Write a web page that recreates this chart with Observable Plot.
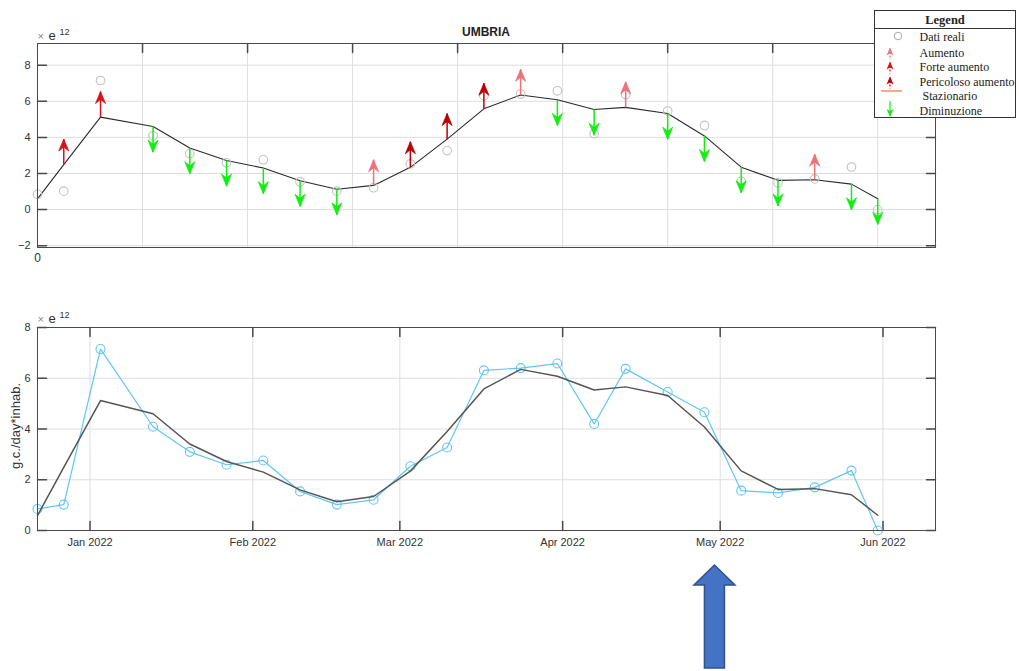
<!DOCTYPE html>
<html><head><meta charset="utf-8">
<script src="https://cdn.jsdelivr.net/npm/d3@7"></script>
<script src="https://cdn.jsdelivr.net/npm/@observablehq/plot@0.6"></script>
<style>
body{margin:0;background:#fff;font-family:"Liberation Sans",Arial,sans-serif;}
#wrap{position:relative;width:1019px;height:671px;overflow:hidden;background:#fff;}
#wrap > svg, #wrap > div{position:absolute;}
.legend{left:874px;top:10px;width:140px;height:106px;border:1px solid #333;background:#fff;font-family:"Liberation Serif","Times New Roman",serif;font-size:12px;color:#222;}
</style></head><body><div id="wrap"></div>
<script>
// ---- data (values in units of 1e12 g.c./day*inhab.) ----
const dates = ["2021-12-22","2021-12-27","2022-01-03","2022-01-13","2022-01-20","2022-01-27","2022-02-03","2022-02-10","2022-02-17","2022-02-24","2022-03-03","2022-03-10","2022-03-17","2022-03-24","2022-03-31","2022-04-07","2022-04-13","2022-04-21","2022-04-28","2022-05-05","2022-05-12","2022-05-19","2022-05-26","2022-05-31"];
const realValues = [0.85,1.02,7.15,4.09,3.10,2.59,2.76,1.54,1.02,1.21,2.53,3.27,6.31,6.40,6.58,4.20,6.37,5.46,4.66,1.57,1.48,1.70,2.36,0.0];
const trendValues = [0.59,2.49,5.12,4.60,3.41,2.72,2.30,1.60,1.13,1.34,2.34,3.90,5.58,6.35,6.08,5.54,5.66,5.32,4.08,2.35,1.62,1.65,1.41,0.60];
const statusValues = ["","Forte aumento","Forte aumento","Diminuzione","Diminuzione","Diminuzione","Diminuzione","Diminuzione","Diminuzione","Aumento","Pericoloso aumento","Pericoloso aumento","Pericoloso aumento","Aumento","Diminuzione","Diminuzione","Aumento","Diminuzione","Diminuzione","Diminuzione","Diminuzione","Aumento","Diminuzione","Diminuzione"];
const statusNames = ["Aumento","Forte aumento","Pericoloso aumento","Stazionario","Diminuzione"];
const statusColors = ["#ec737a","#d3141c","#bd0006","#f7a98b","#12ee12"];
const xDomainDates = ["2021-12-22","2022-06-11"];
const topYTicks = [-2,0,2,4,6,8];
const bottomYTicks = [0,2,4,6,8];
const monthTicks = ["2022-01-01","2022-02-01","2022-03-01","2022-04-01","2022-05-01","2022-06-01"];
const topGridStepDays = 20;
const arrowLength = 1.42;
const annotationDate = "2022-04-30";
const chartTitle = "UMBRIA";
const yLabel = "g.c./day*inhab.";

// ---- build ----
const parse = d3.utcParse("%Y-%m-%d");
const rows = dates.map((d,i)=>({date:parse(d), real:realValues[i], trend:trendValues[i], status:statusValues[i]}));
const xDomain = xDomainDates.map(parse);
const topGrid = d3.range(0, 9).map(i => d3.utcDay.offset(xDomain[0], topGridStepDays*i));
const months = monthTicks.map(parse);
const arrowRows = rows.filter(r => r.status);
const upRows = arrowRows.filter(r => r.status !== "Diminuzione");
const downRows = arrowRows.filter(r => r.status === "Diminuzione");

const tickShape = {draw(ctx, l){ ctx.moveTo(0,0); ctx.lineTo(0,-l); }};
const headUp = {draw(ctx){ ctx.moveTo(0,0); ctx.lineTo(-5,12); ctx.lineTo(0,8); ctx.lineTo(5,12); ctx.closePath(); }};
const headDown = {draw(ctx){ ctx.moveTo(0,0); ctx.lineTo(-5,-12); ctx.lineTo(0,-8); ctx.lineTo(5,-12); ctx.closePath(); }};

const font = {fontFamily:"'Liberation Sans', Arial, sans-serif", fontSize:"11px", color:"#333", background:"transparent", overflow:"visible"};
const gridColor = "#dedede";
const frameColor = "#4a4a4a";

function inwardTicks(xTicks, yTicks, xAnchors){
  const m = [];
  for (const a of xAnchors) m.push(Plot.vector(xTicks, {x:d=>d, frameAnchor:a, rotate:a==="top"?180:0, length:9, anchor:"start", shape:tickShape, stroke:frameColor}));
  m.push(Plot.vector(yTicks, {y:d=>d, frameAnchor:"left", rotate:90, length:9, anchor:"start", shape:tickShape, stroke:frameColor}));
  m.push(Plot.vector(yTicks, {y:d=>d, frameAnchor:"right", rotate:-90, length:9, anchor:"start", shape:tickShape, stroke:frameColor}));
  return m;
}

const topPlot = Plot.plot({
  width:1019, height:270, marginLeft:37, marginRight:84, marginTop:43, marginBottom:23,
  style:font,
  x:{type:"utc", domain:xDomain},
  y:{domain:[-2.1, 9.2]},
  color:{domain:statusNames, range:statusColors},
  marks:[
    Plot.gridX(topGrid, {stroke:gridColor, strokeOpacity:1}),
    Plot.gridY(topYTicks, {stroke:gridColor, strokeOpacity:1}),
    Plot.axisY(topYTicks, {tickSize:0, tickPadding:7, fontSize:11}),
    Plot.axisX([xDomain[0]], {tickSize:0, tickPadding:6, tickFormat:()=>"0", fontSize:12}),
    ...inwardTicks(topGrid.slice(1), topYTicks, ["top"]),
    Plot.line(rows, {x:"date", y:"trend", stroke:"#2a2a2a", strokeWidth:1.1}),
    Plot.dot(rows, {x:"date", y:"real", r:4.3, stroke:"#c2c2c2", fill:"none", strokeWidth:1.1}),
    Plot.link(arrowRows, {x1:"date", x2:"date", y1:"trend", y2:d=>d.trend + (d.status==="Diminuzione" ? -arrowLength : arrowLength), stroke:"status", strokeWidth:1.5}),
    Plot.dot(upRows, {x:"date", y:d=>d.trend+arrowLength, symbol:headUp, fill:"status", stroke:"status", strokeWidth:0.8}),
    Plot.dot(downRows, {x:"date", y:d=>d.trend-arrowLength, symbol:headDown, fill:"status", stroke:"status", strokeWidth:0.8}),
    Plot.frame({stroke:frameColor})
  ]
});
topPlot.style.left = "0px"; topPlot.style.top = "0px";

const bottomPlot = Plot.plot({
  width:1019, height:260, marginLeft:37, marginRight:84, marginTop:27, marginBottom:30,
  style:font,
  x:{type:"utc", domain:xDomain},
  y:{domain:[0, 8]},
  marks:[
    Plot.gridX(months, {stroke:gridColor, strokeOpacity:1}),
    Plot.gridY(bottomYTicks, {stroke:gridColor, strokeOpacity:1}),
    Plot.axisY(bottomYTicks, {tickSize:0, tickPadding:7, fontSize:11}),
    Plot.axisX(months, {tickSize:0, tickPadding:8, tickFormat:d3.utcFormat("%b %Y"), fontSize:11}),
    ...inwardTicks(months, bottomYTicks, ["top","bottom"]),
    Plot.line(rows, {x:"date", y:"real", stroke:"#62c6ef", strokeWidth:1.2}),
    Plot.dot(rows, {x:"date", y:"real", r:4.5, stroke:"#62c6ef", fill:"none", strokeWidth:1.1}),
    Plot.line(rows, {x:"date", y:"trend", stroke:"#555", strokeWidth:1.5}),
    Plot.frame({stroke:frameColor})
  ]
});
bottomPlot.style.left = "0px"; bottomPlot.style.top = "300px";

const wrap = document.getElementById("wrap");
wrap.appendChild(topPlot);
wrap.appendChild(bottomPlot);

// ---- overlay: title, exponent labels, y label, annotation arrow ----
const ov = d3.create("svg").attr("width",1019).attr("height",671).style("left","0px").style("top","0px")
  .attr("font-family","'Liberation Sans', Arial, sans-serif");
ov.append("text").attr("x",486).attr("y",36).attr("text-anchor","middle").attr("font-weight","bold").attr("font-size",12).attr("fill","#222").text(chartTitle);
for (const y0 of [36, 319]) {
  ov.append("text").attr("x",37.5).attr("y",y0+4).attr("font-size",11).attr("fill","#888").text("×");
  ov.append("text").attr("x",48.5).attr("y",y0+4).attr("font-size",13).attr("fill","#333").text("e");
  ov.append("text").attr("x",59.5).attr("y",y0-1.5).attr("font-size",9).attr("fill","#333").text("12");
}
ov.append("text").attr("transform","translate(20,426) rotate(-90)").attr("text-anchor","middle").attr("font-size",13).attr("fill","#333").text(yLabel);
const cx = bottomPlot.scale("x").apply(parse(annotationDate));
ov.append("polygon")
  .attr("points", [[cx-20.5,585],[cx,565],[cx+20.5,585],[cx+10,585],[cx+10,668],[cx-10,668],[cx-10,585]].map(p=>p.join(",")).join(" "))
  .attr("fill","#4472c4").attr("stroke","#2f528f").attr("stroke-width",1.5);
wrap.appendChild(ov.node());

// ---- legend ----
const lg = document.createElement("div");
lg.className = "legend";
const ls = d3.create("svg").attr("width",140).attr("height",106).style("position","absolute").style("left","0").style("top","0");
ls.append("text").attr("x",70).attr("y",12.5).attr("text-anchor","middle").attr("font-weight","bold").attr("font-size",12.5).attr("fill","#222").attr("font-family","'Liberation Serif', serif").text("Legend");
ls.append("line").attr("x1",0).attr("x2",140).attr("y1",17.5).attr("y2",17.5).attr("stroke","#333");
const legendItems = [
  {label:"Dati reali", kind:"circle"},
  {label:"Aumento", kind:"up", color:statusColors[0]},
  {label:"Forte aumento", kind:"up", color:statusColors[1]},
  {label:"Pericoloso aumento", kind:"up", color:statusColors[2]},
  {label:" Stazionario", kind:"flat", color:statusColors[3]},
  {label:"Diminuzione", kind:"down", color:statusColors[4]}
];
const rowY = [26, 41.5, 55.5, 70.5, 85, 100];
legendItems.forEach((it,i)=>{
  const y = rowY[i];
  ls.append("text").attr("x",44.5).attr("y",y+4).attr("font-size",12).attr("fill","#222").attr("font-family","'Liberation Serif', serif").attr("xml:space","preserve").style("white-space","pre").text(it.label);
  if (it.kind==="circle") ls.append("circle").attr("cx",23).attr("cy",y-1).attr("r",3.8).attr("fill","none").attr("stroke","#aaa");
  if (it.kind==="up") {
    ls.append("line").attr("x1",15).attr("x2",15).attr("y1",y-4).attr("y2",y+7).attr("stroke",it.color).attr("stroke-width",1.2).attr("stroke-dasharray","2,1.5");
    ls.append("path").attr("d",`M15,${y-5} L11.5,${y+3} L15,${y+1} L18.5,${y+3} Z`).attr("fill",it.color);
  }
  if (it.kind==="flat") ls.append("line").attr("x1",6).attr("x2",27).attr("y1",y-5).attr("y2",y-5).attr("stroke",it.color).attr("stroke-width",2);
  if (it.kind==="down") {
    ls.append("line").attr("x1",15).attr("x2",15).attr("y1",y-10).attr("y2",y+5).attr("stroke",it.color).attr("stroke-width",1.2);
    ls.append("path").attr("d",`M15,${y+6} L11.5,${y-2} L15,${y} L18.5,${y-2} Z`).attr("fill",it.color);
  }
});
lg.appendChild(ls.node());
wrap.appendChild(lg);
</script></body></html>
